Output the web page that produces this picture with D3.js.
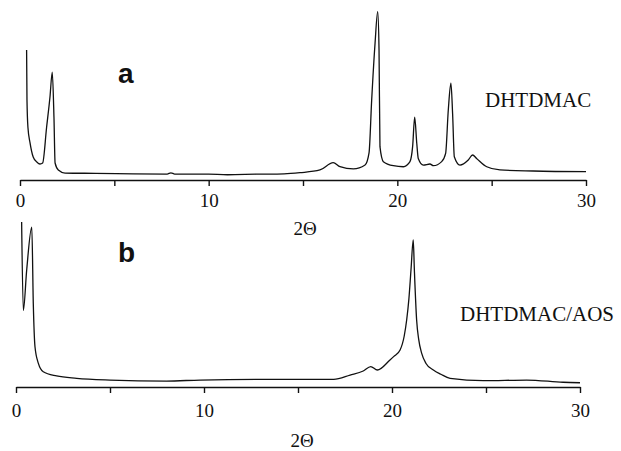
<!DOCTYPE html>
<html>
<head>
<meta charset="utf-8">
<script src="https://cdn.jsdelivr.net/npm/d3@7"></script>
<style>
  body { margin: 0; background: #fff; }
  svg { display: block; }
</style>
</head>
<body>
<div id="chart"></div>
<script>
// Werte (2Theta in Grad, Intensität willkürliche Einheiten)
const twoThetaA = [0.35, 0.37, 0.42, 0.53, 0.70, 0.89, 1.06, 1.20, 1.41, 1.59, 1.71, 1.80, 1.86, 2.03, 2.39,
  4.0, 6.0, 7.8, 8.0, 8.2, 10.0, 11.0, 12.5, 14.0, 14.84, 15.9, 16.6, 16.96, 17.67, 18.29, 18.5, 18.64,
  18.82, 18.96, 19.03, 19.08, 19.26, 19.79, 20.32, 20.67, 20.81, 20.92, 21.03, 21.11, 21.38, 21.73,
  21.91, 22.35, 22.56, 22.70, 22.84, 22.93, 23.02, 23.32, 23.76, 23.99, 24.2, 24.74, 25.44, 27.2, 30.0];
const intensityA = [76.5, 47, 31, 22, 13.5, 10.6, 9.4, 10, 31, 49, 63.5, 37, 10, 5.9, 4.1,
  3.9, 3.6, 3.5, 4.2, 3.5, 3.4, 3.1, 3.4, 3.6, 4.3, 5.9, 10.2, 7.8, 6.5, 8.8, 15.9, 47,
  80.6, 99, 76.5, 19.6, 10.8, 8.4, 7.8, 10.8, 19.6, 36.9, 21.6, 12.7, 8.8, 9.4,
  8.4, 10.8, 15.7, 41, 56.9, 39, 13.7, 8.8, 11.8, 14.7, 12.7, 7.8, 5.9, 5.3, 4.9];

const twoThetaB = [0.30, 0.39, 0.57, 0.84, 0.92, 1.01, 1.19, 1.45, 2.16, 3.23, 5.0, 8.0, 9.79, 13.33,
  15.1, 16.9, 17.77, 18.47, 18.87, 19.22, 19.89, 20.1, 20.43, 20.65, 20.78, 20.9, 21.01, 21.13, 21.19,
  21.31, 21.42, 21.58, 21.8, 22.2, 22.6, 23.09, 24.86, 27.16, 29.1, 30.0];
const intensityB = [97, 45, 69, 94, 49, 23.7, 13.9, 9, 6.5, 5.1, 4.1, 3.5, 4.1, 4.5,
  4.5, 4.5, 7, 9.4, 12, 10, 15.9, 18, 21.8, 30, 39.4, 52, 68.8, 86.5, 68.8,
  39.4, 28, 19.8, 14, 10, 7.5, 5.1, 3.7, 4.1, 2.8, 2.5];

const tickValues = [0, 5, 10, 15, 20, 25, 30];
const axisTitle = "2\u0398";

// Zwei Teilbilder, jeweils mit eigenen Maßen
const panels = [
  { letter: "a", name: "DHTDMAC", x: twoThetaA, y: intensityA,
    left: 20, right: 586, base: 180, top: 10, pad: 8,
    letterY: 83, nameX: 485, nameY: 107, titleX: 305, titleY: 235 },
  { letter: "b", name: "DHTDMAC/AOS", x: twoThetaB, y: intensityB,
    left: 16, right: 580, base: 387, top: 217, pad: 11,
    letterY: 262, nameX: 460, nameY: 321, titleX: 302, titleY: 447 }
];

const svg = d3.select("#chart")
  .append("svg")
  .attr("width", 621)
  .attr("height", 451);

panels.forEach(p => {
  const xScale = d3.scaleLinear().domain([0, 30]).range([p.left, p.right]);
  const yScale = d3.scaleLinear().domain([0, 100]).range([p.base, p.top]);

  const points = p.x.map((t, i) => ({ t: t, v: p.y[i] }));

  // monotone Kurve, damit die Flanken weich aussehen
  const line = d3.line()
    .curve(d3.curveMonotoneX)
    .x(d => xScale(d.t))
    .y(d => yScale(d.v));

  svg.append("path")
    .datum(points)
    .attr("d", line)
    .attr("fill", "none")
    .attr("stroke", "#111")
    .attr("stroke-width", 1.3)
    .attr("stroke-linejoin", "round");

  // x-Achse, Beschriftung nur bei 0, 10, 20, 30
  const axis = d3.axisBottom(xScale)
    .tickValues(tickValues)
    .tickSize(6)
    .tickSizeOuter(0)
    .tickPadding(p.pad)
    .tickFormat(d => d % 10 === 0 ? d : "");

  const g = svg.append("g")
    .attr("transform", `translate(0, ${p.base})`)
    .call(axis);

  g.select(".domain").attr("stroke", "#111").attr("stroke-width", 1.6);
  g.selectAll(".tick line").attr("stroke", "#111").attr("stroke-width", 1.4);
  g.selectAll(".tick text")
    .style("font-family", "'Liberation Serif', serif")
    .style("font-size", "19px")
    .attr("fill", "#111");

  svg.append("text")
    .text(axisTitle)
    .attr("x", p.titleX)
    .attr("y", p.titleY)
    .attr("text-anchor", "middle")
    .style("font-family", "'Liberation Serif', serif")
    .style("font-size", "19px")
    .attr("fill", "#111");

  svg.append("text")
    .text(p.letter)
    .attr("x", 118)
    .attr("y", p.letterY)
    .style("font-family", "'Liberation Sans', sans-serif")
    .style("font-weight", "bold")
    .style("font-size", "28px")
    .attr("fill", "#111");

  svg.append("text")
    .text(p.name)
    .attr("x", p.nameX)
    .attr("y", p.nameY)
    .style("font-family", "'Liberation Serif', serif")
    .style("font-size", "21px")
    .attr("fill", "#111");
});
</script>
</body>
</html>
